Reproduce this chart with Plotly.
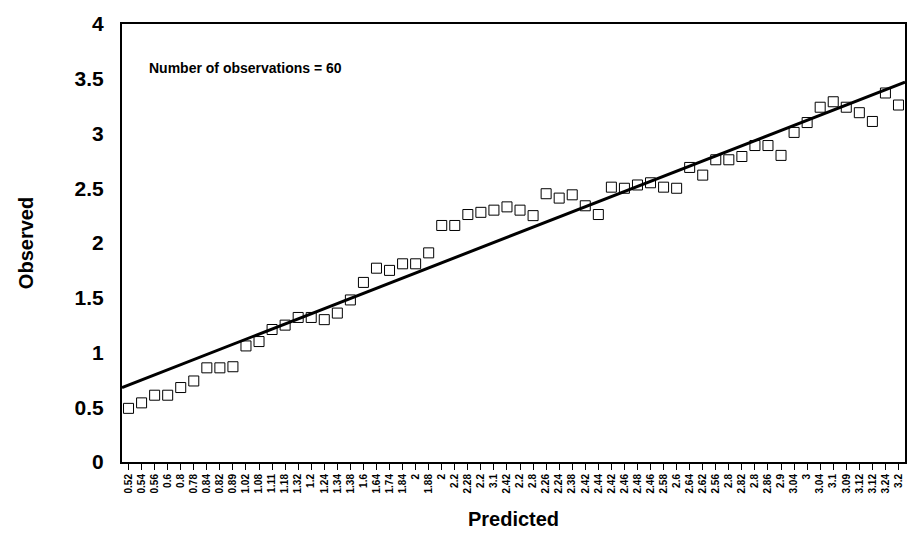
import plotly.graph_objects as go

# Predicted-value tick labels, one per observation (in plot order)
predicted_labels = [
    "0.52", "0.54", "0.56", "0.6", "0.8", "0.78", "0.84", "0.82", "0.89", "1.02",
    "1.08", "1.11", "1.18", "1.32", "1.2", "1.24", "1.34", "1.38", "1.6", "1.64",
    "1.74", "1.84", "2", "1.88", "2", "2.2", "2.28", "2.2", "3.1", "2.42",
    "2.2", "2.8", "2.26", "2.24", "2.38", "2.42", "2.44", "2.42", "2.46", "2.48",
    "2.46", "2.58", "2.6", "2.64", "2.62", "2.56", "2.8", "2.82", "2.8", "2.86",
    "2.9", "3.04", "3", "3.04", "3.1", "3.09", "3.12", "3.12", "3.24", "3.2",
]

# Observed values
observed = [
    0.49, 0.54, 0.61, 0.61, 0.68, 0.74, 0.86, 0.86, 0.87, 1.06,
    1.10, 1.21, 1.25, 1.32, 1.32, 1.30, 1.36, 1.48, 1.64, 1.77,
    1.75, 1.81, 1.81, 1.91, 2.16, 2.16, 2.26, 2.28, 2.30, 2.33,
    2.30, 2.25, 2.45, 2.41, 2.44, 2.34, 2.26, 2.51, 2.50, 2.53,
    2.55, 2.51, 2.50, 2.69, 2.62, 2.76, 2.76, 2.79, 2.89, 2.89,
    2.80, 3.01, 3.10, 3.24, 3.29, 3.24, 3.19, 3.11, 3.37, 3.26,
]

# Fitted trend line, value at the left and right edges of the plot
trend_ends = [0.68, 3.47]

n = len(observed)
idx = list(range(n))
trend_x = [-0.5, n - 0.5]

font_family = "Liberation Sans, Arial, sans-serif"

fig = go.Figure()
fig.add_trace(go.Scatter(
    x=trend_x, y=trend_ends, mode="lines",
    line=dict(color="black", width=3), hoverinfo="skip", showlegend=False,
))
fig.add_trace(go.Scatter(
    x=idx, y=observed, mode="markers",
    marker=dict(symbol="square-open", size=10, color="black",
                line=dict(width=1, color="black")),
    showlegend=False,
))

fig.add_annotation(
    x=0.032, y=3.6, xref="paper", yref="y", xanchor="left", yanchor="middle",
    text="<b>Number of observations = 60</b>", showarrow=False,
    font=dict(family=font_family, size=14, color="black"),
)

fig.update_layout(
    width=908, height=542,
    margin=dict(l=122, r=1, t=24, b=80),
    paper_bgcolor="white", plot_bgcolor="white",
    font=dict(family=font_family, color="black"),
    xaxis=dict(
        range=[-0.5, n - 0.5],
        tickmode="array", tickvals=idx, ticktext=predicted_labels,
        tickangle=-90, tickfont=dict(size=10, weight="bold"),
        ticks="outside", ticklen=6, tickwidth=1, tickcolor="black",
        showgrid=False, zeroline=False,
        showline=True, linecolor="black", linewidth=2, mirror=True,
        title=dict(text="<b>Predicted</b>", font=dict(size=20), standoff=20),
    ),
    yaxis=dict(
        range=[0, 4], dtick=0.5, tickformat="~g",
        tickfont=dict(size=21, weight="bold"),
        ticklabelstandoff=12,
        ticks="", showgrid=False, zeroline=False,
        showline=True, linecolor="black", linewidth=2, mirror=True,
        title=dict(text="<b>Observed</b>", font=dict(size=20), standoff=36),
    ),
)

fig.write_html("out.html")
